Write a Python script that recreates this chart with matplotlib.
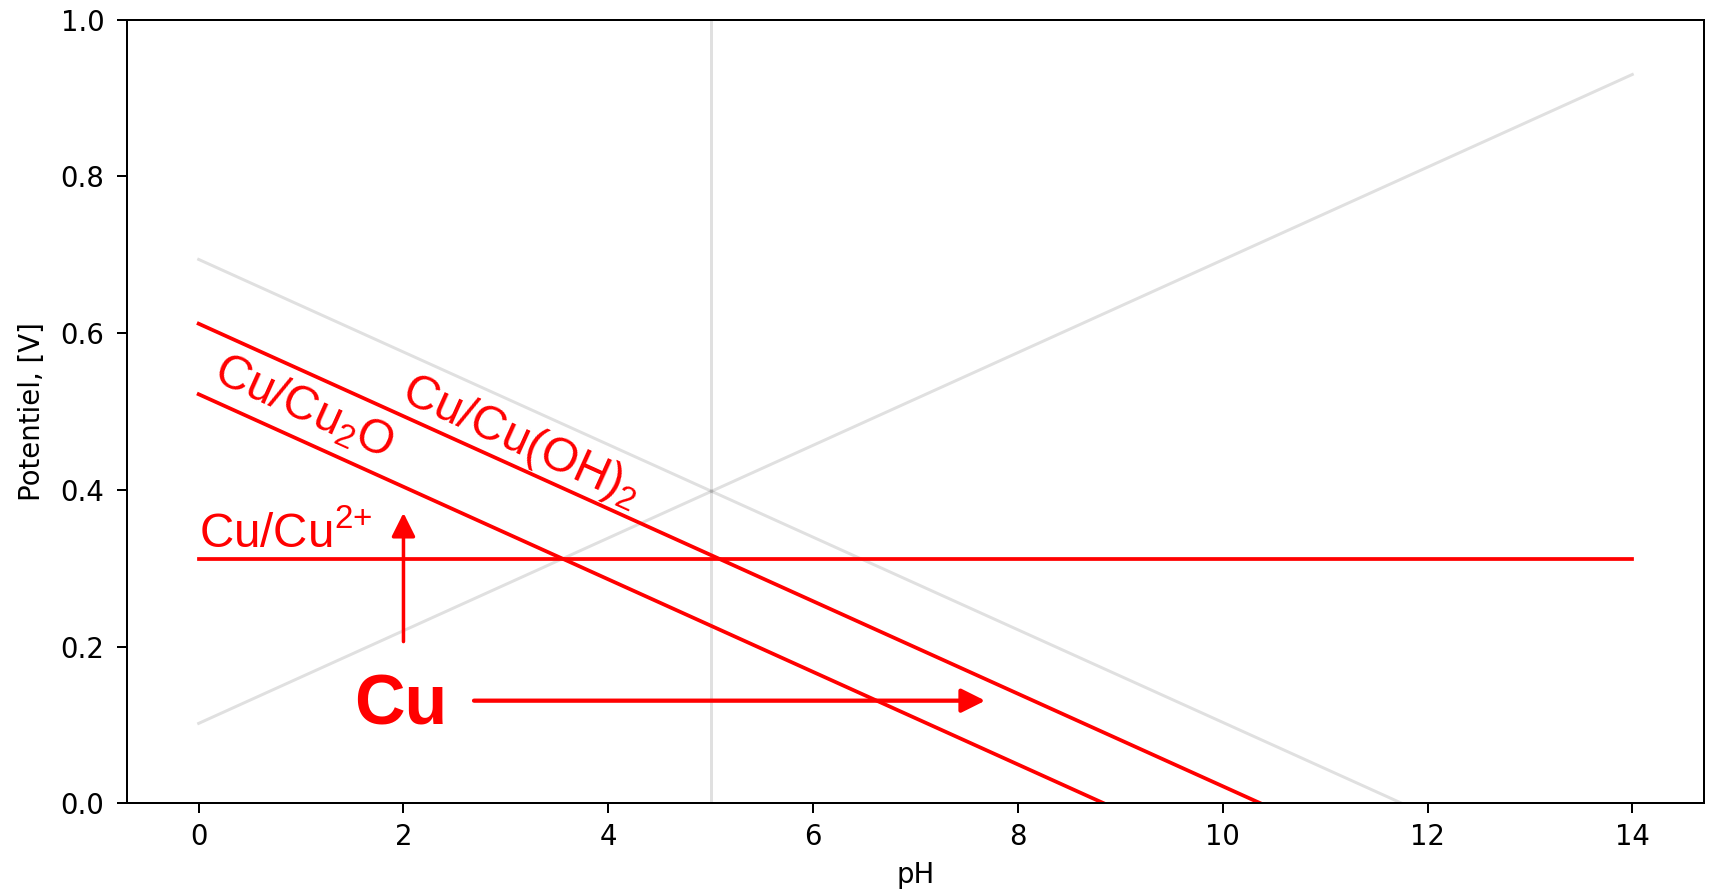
import matplotlib
matplotlib.use("Agg")
import matplotlib.pyplot as plt
import numpy as np

plt.rcParams['mathtext.fontset'] = 'custom'
plt.rcParams['mathtext.rm'] = 'Liberation Sans'
plt.rcParams['mathtext.it'] = 'Liberation Sans'

# line endpoints (pH, E in V)
water_up_ph = [0, 14]
water_up_e = [0.102, 0.93]
water_down_ph = [0, 11.75]
water_down_e = [0.694, 0.0]
vert_ph = [5, 5]
vert_e = [0.0, 1.0]

cu2p_ph = [0, 14]
cu2p_e = [0.312, 0.312]
cu2o_ph = [0, 8.84]
cu2o_e = [0.522, 0.0]
cuoh_ph = [0, 10.37]
cuoh_e = [0.612, 0.0]

slope = -0.059  # V per pH unit, for the label angle

fig = plt.figure(figsize=(1716 / 180, 892 / 180), dpi=180)
ax = fig.add_subplot(111)
fig.subplots_adjust(left=0.074, right=0.993, top=0.978, bottom=0.0994)

# background lines
ax.plot(water_up_ph, water_up_e, color='k', alpha=0.12, lw=1.2)
ax.plot(water_down_ph, water_down_e, color='k', alpha=0.12, lw=1.2)
ax.plot(vert_ph, vert_e, color='k', alpha=0.12, lw=1.2)

# copper couples
ax.plot(cu2p_ph, cu2p_e, color='red', lw=1.5)
ax.plot(cu2o_ph, cu2o_e, color='red', lw=1.5)
ax.plot(cuoh_ph, cuoh_e, color='red', lw=1.5)

ax.set_xlim(-0.7, 14.7)
ax.set_ylim(0, 1.0)
ax.set_xlabel('pH', fontsize=11, labelpad=4)
ax.set_ylabel('Potentiel, [V]', fontsize=11, labelpad=6)
ax.tick_params(axis='both', labelsize=11, length=4)
ax.tick_params(axis='y', pad=5)
ax.tick_params(axis='x', pad=4)

ang = np.degrees(np.arctan(slope))

lab = dict(color='red', family='Liberation Sans', fontsize=19)
ax.text(1.03, 0.506, r'Cu/Cu$_2$O', ha='center', va='center',
        rotation=ang, rotation_mode='anchor', transform_rotates_text=True, **lab)
ax.text(3.15, 0.462, r'Cu/Cu(OH)$_2$', ha='center', va='center',
        rotation=ang, rotation_mode='anchor', transform_rotates_text=True, **lab)
ax.text(0.0, 0.327, r'Cu/Cu$^{2{+}}$', ha='left', va='baseline', **lab)

ax.text(1.97, 0.124, 'Cu', ha='center', va='center', color='red',
        family='Liberation Sans', fontsize=28, fontweight='bold')

ax.annotate('', xy=(2.0, 0.377), xytext=(2.0, 0.2),
            arrowprops=dict(arrowstyle='-|>', color='red', lw=1.4, mutation_scale=20))
ax.annotate('', xy=(7.73, 0.131), xytext=(2.64, 0.131),
            arrowprops=dict(arrowstyle='-|>', color='red', lw=1.7, mutation_scale=20))

fig.savefig('out.png', dpi=180)
